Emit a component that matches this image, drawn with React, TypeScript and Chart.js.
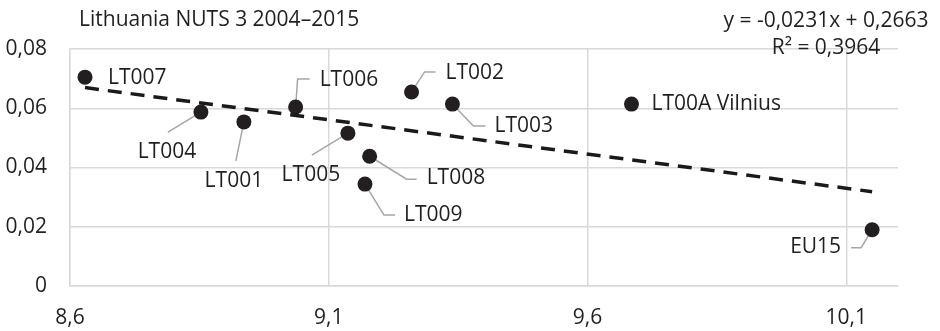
import React, { useEffect, useRef } from "react";
import { Chart, registerables } from "chart.js";

Chart.register(...registerables);

// ---- data ----
const regionLabels = ["LT007", "LT004", "LT001", "LT006", "LT005", "LT008", "LT009", "LT002", "LT003", "LT00A Vilnius", "EU15"];
const xValues = [8.629, 8.853, 8.936, 9.036, 9.137, 9.179, 9.170, 9.260, 9.339, 9.685, 10.150];
const yValues = [0.0705, 0.0587, 0.0554, 0.0604, 0.0516, 0.0438, 0.0344, 0.0655, 0.0614, 0.0614, 0.0190];
const xTickValues = [8.6, 9.1, 9.6, 10.1];
const trendSlope = -0.0231;
const trendIntercept = 0.2663;
const trendR2 = "0,3964";
const titleText = "Lithuania NUTS 3 2004–2015";

// ---- label layout (pixel offsets relative to each point) ----
type LabelLayout = { dx: number; dy: number; align: CanvasTextAlign; leader: number[][] };
const labelLayout: LabelLayout[] = [
  { dx: 23, dy: 1, align: "left", leader: [] },
  { dx: -34, dy: 40, align: "center", leader: [[-33, 20]] },
  { dx: -10, dy: 59, align: "center", leader: [[-8, 39]] },
  { dx: 24, dy: -27, align: "left", leader: [[2, -28], [14, -28]] },
  { dx: -37, dy: 42, align: "center", leader: [[-36, 22]] },
  { dx: 57, dy: 22, align: "left", leader: [[37, 23], [47, 23]] },
  { dx: 39, dy: 31, align: "left", leader: [[19, 31], [30, 31]] },
  { dx: 34, dy: -19, align: "left", leader: [[13, -20], [24, -20]] },
  { dx: 42, dy: 22, align: "left", leader: [[21, 22], [33, 22]] },
  { dx: 20, dy: 0, align: "left", leader: [] },
  { dx: -31, dy: 17, align: "right", leader: [[-11, 18], [-21, 18]] },
];

const FONT = "'Open Sans', 'Noto Sans', sans-serif";
const FONT_SIZE = 21;
const TEXT_COLOR = "#231f20";
const GRID_COLOR = "#d9d9d9";

const fmt = (v: number, d: number) => (v === 0 ? "0" : v.toFixed(d).replace(".", ","));

export default function App() {
  const ref = useRef<HTMLCanvasElement | null>(null);

  useEffect(() => {
    document.body.style.margin = "0";
    const canvas = ref.current;
    if (!canvas) return;

    const xMin = Math.min(...xValues);
    const xMax = Math.max(...xValues);
    const trendData = [
      { x: xMin, y: trendSlope * xMin + trendIntercept },
      { x: xMax, y: trendSlope * xMax + trendIntercept },
    ];

    const annotatePlugin = {
      id: "annotate",
      beforeDatasetsDraw(chart: any) {
        const ctx = chart.ctx;
        const meta = chart.getDatasetMeta(1);
        ctx.save();
        ctx.strokeStyle = "#a6a6a6";
        ctx.lineWidth = 1.5;
        meta.data.forEach((pt: any, i: number) => {
          const lay = labelLayout[i];
          if (!lay || lay.leader.length === 0) return;
          ctx.beginPath();
          ctx.moveTo(pt.x, pt.y);
          lay.leader.forEach((p) => ctx.lineTo(pt.x + p[0], pt.y + p[1]));
          ctx.stroke();
        });
        ctx.restore();
      },
      afterDatasetsDraw(chart: any) {
        const ctx = chart.ctx;
        const meta = chart.getDatasetMeta(1);
        ctx.save();
        ctx.fillStyle = TEXT_COLOR;
        ctx.font = `${FONT_SIZE}px ${FONT}`;
        ctx.textBaseline = "middle";
        meta.data.forEach((pt: any, i: number) => {
          const lay = labelLayout[i];
          ctx.textAlign = lay.align;
          ctx.fillText(regionLabels[i], pt.x + lay.dx, pt.y + lay.dy);
        });
        // title
        ctx.textAlign = "left";
        ctx.fillText(titleText, 79, 20);
        // equation
        ctx.textAlign = "center";
        const eq = `y = ${fmt(trendSlope, 4)}x + ${fmt(trendIntercept, 4)}`;
        ctx.fillText(eq, 826, 21);
        ctx.fillText(`R² = ${trendR2}`, 826, 48);
        ctx.restore();
      },
    };

    const chart = new Chart(canvas, {
      type: "scatter",
      data: {
        datasets: [
          {
            type: "line",
            data: trendData,
            borderColor: "#1a1a1a",
            borderWidth: 3.5,
            borderDash: [14, 9],
            pointRadius: 0,
            fill: false,
          } as any,
          {
            data: xValues.map((x, i) => ({ x, y: yValues[i] })),
            backgroundColor: "#231f20",
            borderColor: "#231f20",
            pointRadius: 7.5,
            borderWidth: 0,
          },
        ],
      },
      options: {
        animation: false,
        responsive: false,
        devicePixelRatio: 1,
        layout: { padding: { top: 49, right: 42, left: 0, bottom: 0 } },
        plugins: { legend: { display: false }, tooltip: { enabled: false }, title: { display: false } },
        scales: {
          x: {
            type: "linear",
            min: 8.6,
            max: 10.2,
            afterBuildTicks: (scale: any) => {
              scale.ticks = xTickValues.map((v) => ({ value: v }));
            },
            afterFit: (scale: any) => {
              scale.height = 45;
            },
            grid: { color: GRID_COLOR, lineWidth: 1.5, drawTicks: false },
            border: { color: GRID_COLOR, width: 1.5 },
            ticks: {
              padding: 19,
              color: TEXT_COLOR,
              font: { family: FONT, size: FONT_SIZE },
              callback: (v: any) => fmt(Number(v), 1),
              maxRotation: 0,
            },
          },
          y: {
            type: "linear",
            min: 0,
            max: 0.08,
            afterFit: (scale: any) => {
              scale.width = 70;
            },
            grid: { color: GRID_COLOR, lineWidth: 1.5, drawTicks: false },
            border: { color: GRID_COLOR, width: 1.5 },
            ticks: {
              stepSize: 0.02,
              padding: 23,
              color: TEXT_COLOR,
              font: { family: FONT, size: FONT_SIZE },
              callback: (v: any) => fmt(Number(v), 2),
            },
          },
        },
      },
      plugins: [annotatePlugin],
    } as any);

    return () => chart.destroy();
  }, []);

  return (
    <div style={{ width: 940, height: 331 }}>
      <canvas ref={ref} width={940} height={331} style={{ display: "block" }} />
    </div>
  );
}
